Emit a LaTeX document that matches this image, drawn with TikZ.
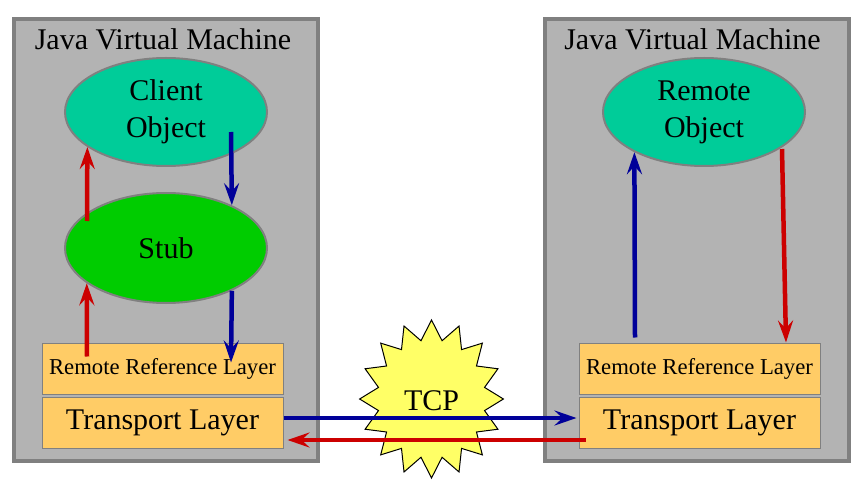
\documentclass[tikz,border=0pt]{standalone}
\usepackage{fontspec}
\setmainfont{Liberation Serif}
\usetikzlibrary{shapes.geometric,arrows.meta,calc}
\definecolor{jvmfill}{HTML}{B3B3B3}
\definecolor{jvmline}{HTML}{808080}
\definecolor{objfill}{HTML}{00CC99}
\definecolor{stubfill}{HTML}{00CC00}
\definecolor{layerfill}{HTML}{FFCC66}
\definecolor{tcpfill}{HTML}{FFFF66}
\definecolor{arrblue}{HTML}{000099}
\definecolor{arrred}{HTML}{CC0000}
\tikzset{
  jvm/.style={draw=jvmline, fill=jvmfill, line width=4pt, minimum width=304pt, minimum height=442pt, inner sep=0pt},
  title/.style={font=\fontsize{30}{36}\selectfont, anchor=base},
  obj/.style={ellipse, draw=jvmline, line width=2pt, minimum width=202pt, minimum height=108pt, inner sep=0pt, align=center, font=\fontsize{30}{37}\selectfont},
  layer/.style={draw=jvmline, fill=layerfill, line width=1pt, minimum width=241pt, minimum height=51pt, inner sep=0pt},
  flow/.style={line width=4.5pt, -{Stealth[length=22pt,width=15pt,inset=8pt]}},
  tcpstar/.style={star, star points=16, star point ratio=1.33, draw=black, line width=1pt, fill=tcpfill, minimum size=158pt, inner sep=0pt},
}
\begin{document}
\begin{tikzpicture}[x=1pt,y=1pt]
\useasboundingbox (0,0) rectangle (864,485);
% JVM boxes
\node[jvm] (jvmL) at (166,245) {};
\node[jvm] (jvmR) at (696.5,245) {};
\node[title] (titleL) at (163,435) {Java Virtual Machine};
\node[title] (titleR) at (692.5,435) {Java Virtual Machine};
% objects
\node[obj, fill=objfill] (client) at (166,373) {Client\\Object};
\node[obj, fill=stubfill, minimum height=110pt] (stub) at (166,237) {Stub};
\node[obj, fill=objfill] (remote) at (704,373) {Remote\\Object};
% layers
\node[layer, font=\fontsize{22.7}{26}\selectfont] (rrlL) at (162.5,116.5) {Remote Reference Layer};
\node[layer, font=\fontsize{30}{34}\selectfont] (tlL) at (162.5,62.5) {Transport Layer};
\node[layer, font=\fontsize{22.7}{26}\selectfont] (rrlR) at (699.5,116.5) {Remote Reference Layer};
\node[layer, font=\fontsize{30}{34}\selectfont] (tlR) at (699.5,62.5) {Transport Layer};
% TCP star
\begin{scope}[xscale=0.91]
\node[tcpstar, transform shape] (tcp) at (474.2,86) {};
\end{scope}
% arrows left
\draw[flow, arrred] ([shift={(-75.5pt,-14pt)}]rrlL.north) -- (stub.204);
\draw[flow, arrred] ([shift={(-79pt,27pt)}]stub.center) -- (client.204.5);
\draw[flow, arrblue] ([shift={(65pt,-20pt)}]client.center) -- (stub.33.5);
\draw[flow, arrblue] (stub.-33.5) -- ([shift={(68.5pt,-20pt)}]rrlL.north);
% transport
\draw[flow, arrblue] ([yshift=4.5pt]tlL.east) -- ([shift={(-2pt,4.5pt)}]tlR.west);
\draw[flow, arrred] ([shift={(7pt,-17.5pt)}]tlR.west) -- ([shift={(4pt,-17.5pt)}]tlL.east);
% arrows right
\draw[flow, arrblue] ([shift={(-64.5pt,5pt)}]rrlR.north) -- (remote.210.7);
\draw[flow, arrred] ([shift={(78pt,-37pt)}]remote.center) -- ([xshift=86.5pt]rrlR.north);
% TCP label
\node[font=\fontsize{30}{34}\selectfont] (tcplabel) at ([yshift=-2pt]tcp.center) {TCP};
\end{tikzpicture}
\end{document}
